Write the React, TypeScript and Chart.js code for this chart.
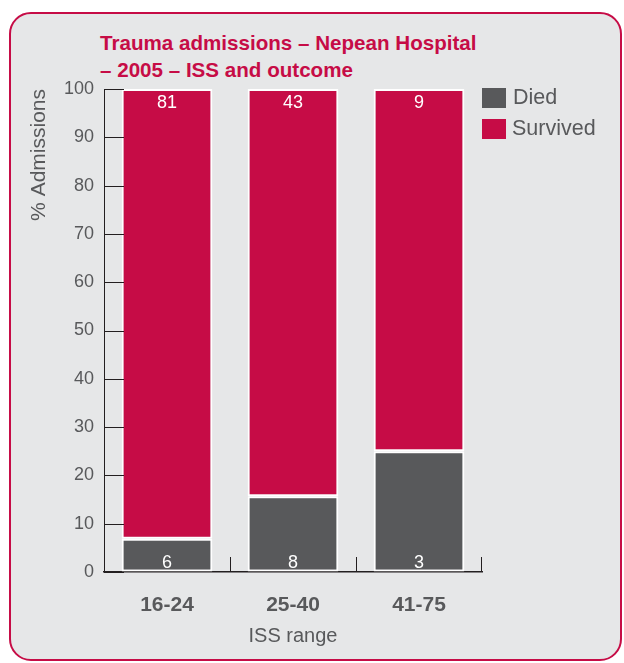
import React, { useEffect, useRef } from "react";
import { Chart, registerables } from "chart.js";

Chart.register(...registerables);

const categories = ["16-24", "25-40", "41-75"];
const diedPercent = [6.9, 15.7, 25];
const survivedPercent = [93.1, 84.3, 75];
const diedCounts = [6, 8, 3];
const survivedCounts = [81, 43, 9];
const seriesNames = ["Died", "Survived"];
const yTickStep = 10;

const CRIMSON = "#c60c46";
const DARK = "#58595b";
const TEXT = "#58595b";
const AXIS = "#231f20";
const BG = "#e6e7e8";
const FONT = "'Liberation Sans', Arial, Helvetica, sans-serif";

const axisTicks = {
  id: "axisTicks",
  afterDraw(chart: any) {
    const { ctx, chartArea, scales } = chart;
    const x = scales.x;
    const y = scales.y;
    ctx.save();
    ctx.strokeStyle = AXIS;
    ctx.lineWidth = 1;
    y.ticks.forEach((t: any) => {
      const py = Math.round(y.getPixelForValue(t.value)) + 0.5;
      ctx.beginPath();
      ctx.moveTo(chartArea.left, py);
      ctx.lineTo(chartArea.left + 20, py);
      ctx.stroke();
    });
    const n = x.ticks.length;
    for (let i = 0; i < n; i++) {
      const px =
        i < n - 1
          ? Math.round((x.getPixelForTick(i) + x.getPixelForTick(i + 1)) / 2) + 0.5
          : Math.round(chartArea.right) - 0.5;
      ctx.beginPath();
      ctx.moveTo(px, chartArea.bottom);
      ctx.lineTo(px, chartArea.bottom - 15);
      ctx.stroke();
    }
    ctx.restore();
  },
};

const barLabels = {
  id: "barLabels",
  afterDatasetsDraw(chart: any) {
    const { ctx } = chart;
    ctx.save();
    ctx.fillStyle = "#ffffff";
    ctx.font = `18px ${FONT}`;
    ctx.textAlign = "center";
    ctx.textBaseline = "middle";
    const diedMeta = chart.getDatasetMeta(0);
    const survMeta = chart.getDatasetMeta(1);
    diedMeta.data.forEach((el: any, i: number) => {
      ctx.fillText(String(diedCounts[i]), el.x, el.base - 8);
    });
    survMeta.data.forEach((el: any, i: number) => {
      ctx.fillText(String(survivedCounts[i]), el.x, el.y + 14);
    });
    ctx.restore();
  },
};

export default function App() {
  const ref = useRef<HTMLCanvasElement>(null);

  useEffect(() => {
    if (!ref.current) return;
    Chart.defaults.font.family = FONT;
    const chart = new Chart(ref.current, {
      type: "bar",
      data: {
        labels: categories,
        datasets: [
          {
            label: seriesNames[0],
            data: diedPercent,
            backgroundColor: DARK,
            borderColor: "#ffffff",
            borderWidth: 2,
            borderSkipped: false,
          },
          {
            label: seriesNames[1],
            data: survivedPercent,
            backgroundColor: CRIMSON,
            borderColor: "#ffffff",
            borderWidth: 2,
            borderSkipped: false,
          },
        ],
      },
      options: {
        animation: false,
        responsive: false,
        maintainAspectRatio: false,
        datasets: { bar: { categoryPercentage: 1, barPercentage: 0.72 } },
        layout: { padding: { left: 0, right: 142, top: 89, bottom: 15 } },
        plugins: { legend: { display: false }, tooltip: { enabled: false }, title: { display: false } },
        scales: {
          x: {
            stacked: true,
            grid: { display: false, drawTicks: false },
            border: { display: true, color: AXIS, width: 1.5 },
            ticks: { color: TEXT, padding: 21, font: { size: 21, weight: "bold" } },
            title: { display: true, text: "ISS range", color: TEXT, font: { size: 20 }, padding: 0 },
            afterFit: (s: any) => {
              s.height = 76;
            },
          },
          y: {
            stacked: true,
            min: 0,
            max: 100,
            grid: { display: true, drawOnChartArea: false, drawTicks: false },
            border: { display: true, color: AXIS, width: 1 },
            ticks: { stepSize: yTickStep, color: TEXT, padding: 10, font: { size: 18 } },
            title: {
              display: true,
              text: "% Admissions",
              color: TEXT,
              align: "end",
              font: { size: 21 },
              padding: { top: 27, bottom: 0 },
            },
            afterFit: (s: any) => {
              s.width = 104;
            },
          },
        },
      },
      plugins: [axisTicks, barLabels],
    } as any);
    return () => chart.destroy();
  }, []);

  return (
    <div style={{ position: "fixed", left: 0, top: 0, width: 624, height: 663, fontFamily: FONT }}>
      <div
        style={{
          position: "absolute",
          left: 9,
          top: 12,
          width: 613,
          height: 649,
          boxSizing: "border-box",
          border: `2px solid ${CRIMSON}`,
          borderRadius: 22,
          background: BG,
        }}
      />
      <div
        style={{
          position: "absolute",
          left: 100,
          top: 29,
          color: CRIMSON,
          fontWeight: "bold",
          fontSize: 20.6,
          lineHeight: "27px",
          whiteSpace: "nowrap",
        }}
      >
        <div>Trauma admissions – Nepean Hospital</div>
        <div>– 2005 – ISS and outcome</div>
      </div>
      <canvas ref={ref} width={624} height={663} style={{ position: "absolute", left: 0, top: 0 }} />
      <div style={{ position: "absolute", left: 482, top: 88, width: 24, height: 20, background: DARK }} />
      <div style={{ position: "absolute", left: 482, top: 119, width: 24, height: 20, background: CRIMSON }} />
      <div style={{ position: "absolute", left: 513, top: 85, fontSize: 21.5, lineHeight: "24px", color: TEXT }}>Died</div>
      <div style={{ position: "absolute", left: 512, top: 116, fontSize: 21.5, lineHeight: "24px", color: TEXT }}>Survived</div>
    </div>
  );
}
